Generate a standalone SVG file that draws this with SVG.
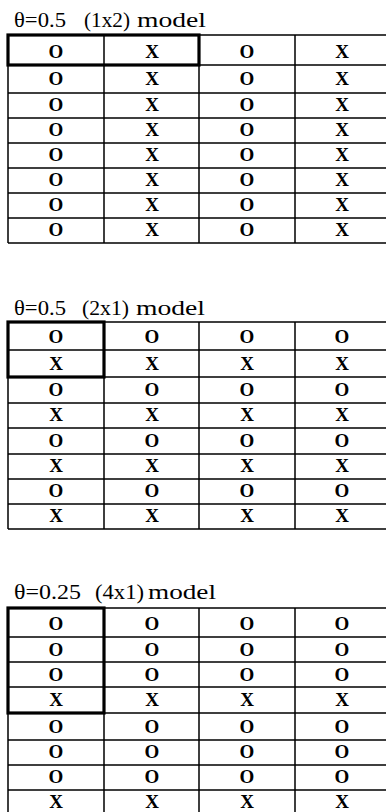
<svg xmlns="http://www.w3.org/2000/svg" width="386" height="812" viewBox="0 0 386 812">
<style>
.title{font-family:"Liberation Serif","Times New Roman",serif;font-size:20px;fill:#000}
.c{font-family:"Liberation Serif","Times New Roman",serif;font-size:19px;font-weight:bold;fill:#000;text-anchor:middle}
.g{stroke:#000;stroke-width:1.5;fill:none}
.k{stroke:#000;stroke-width:3.2;fill:none}
</style>
<rect width="386" height="812" fill="#fff"/>

<g id="table1">
<text class="title" y="27"><tspan x="14" textLength="52" lengthAdjust="spacingAndGlyphs">θ=0.5</tspan><tspan x="84" textLength="46" lengthAdjust="spacingAndGlyphs">(1x2)</tspan><tspan x="137" textLength="69" lengthAdjust="spacingAndGlyphs">model</tspan></text>
<g class="g">
<path d="M8 35H390M8 65H390M8 93H390M8 118H390M8 143H390M8 168H390M8 193H390M8 218H390M8 243H390"/>
<path d="M8 35V243M104 35V243M199 35V243M295 35V243"/>
</g>
<rect class="k" x="8" y="35" width="191" height="30"/>
<g>
<text class="c" x="56" y="58">O</text><text class="c" x="152" y="58">X</text><text class="c" x="247" y="58">O</text><text class="c" x="342" y="58">X</text>
<text class="c" x="56" y="85">O</text><text class="c" x="152" y="85">X</text><text class="c" x="247" y="85">O</text><text class="c" x="342" y="85">X</text>
<text class="c" x="56" y="111">O</text><text class="c" x="152" y="111">X</text><text class="c" x="247" y="111">O</text><text class="c" x="342" y="111">X</text>
<text class="c" x="56" y="136">O</text><text class="c" x="152" y="136">X</text><text class="c" x="247" y="136">O</text><text class="c" x="342" y="136">X</text>
<text class="c" x="56" y="161">O</text><text class="c" x="152" y="161">X</text><text class="c" x="247" y="161">O</text><text class="c" x="342" y="161">X</text>
<text class="c" x="56" y="186">O</text><text class="c" x="152" y="186">X</text><text class="c" x="247" y="186">O</text><text class="c" x="342" y="186">X</text>
<text class="c" x="56" y="211">O</text><text class="c" x="152" y="211">X</text><text class="c" x="247" y="211">O</text><text class="c" x="342" y="211">X</text>
<text class="c" x="56" y="236">O</text><text class="c" x="152" y="236">X</text><text class="c" x="247" y="236">O</text><text class="c" x="342" y="236">X</text>
</g>
</g>

<g id="table2">
<text class="title" y="315"><tspan x="14" textLength="52" lengthAdjust="spacingAndGlyphs">θ=0.5</tspan><tspan x="82" textLength="47" lengthAdjust="spacingAndGlyphs">(2x1)</tspan><tspan x="136" textLength="69" lengthAdjust="spacingAndGlyphs">model</tspan></text>
<g class="g">
<path d="M8 322H390M8 350H390M8 377H390M8 403H390M8 428H390M8 454H390M8 479H390M8 504H390M8 529H390"/>
<path d="M8 322V529M104 322V529M199 322V529M295 322V529"/>
</g>
<rect class="k" x="8" y="322" width="96" height="55"/>
<g>
<text class="c" x="56" y="343">O</text><text class="c" x="152" y="343">O</text><text class="c" x="247" y="343">O</text><text class="c" x="342" y="343">O</text>
<text class="c" x="56" y="370">X</text><text class="c" x="152" y="370">X</text><text class="c" x="247" y="370">X</text><text class="c" x="342" y="370">X</text>
<text class="c" x="56" y="396">O</text><text class="c" x="152" y="396">O</text><text class="c" x="247" y="396">O</text><text class="c" x="342" y="396">O</text>
<text class="c" x="56" y="421">X</text><text class="c" x="152" y="421">X</text><text class="c" x="247" y="421">X</text><text class="c" x="342" y="421">X</text>
<text class="c" x="56" y="447">O</text><text class="c" x="152" y="447">O</text><text class="c" x="247" y="447">O</text><text class="c" x="342" y="447">O</text>
<text class="c" x="56" y="472">X</text><text class="c" x="152" y="472">X</text><text class="c" x="247" y="472">X</text><text class="c" x="342" y="472">X</text>
<text class="c" x="56" y="497">O</text><text class="c" x="152" y="497">O</text><text class="c" x="247" y="497">O</text><text class="c" x="342" y="497">O</text>
<text class="c" x="56" y="522">X</text><text class="c" x="152" y="522">X</text><text class="c" x="247" y="522">X</text><text class="c" x="342" y="522">X</text>
</g>
</g>

<g id="table3">
<text class="title" y="599"><tspan x="14" textLength="67" lengthAdjust="spacingAndGlyphs">θ=0.25</tspan><tspan x="95" textLength="49" lengthAdjust="spacingAndGlyphs">(4x1)</tspan><tspan x="148" textLength="68" lengthAdjust="spacingAndGlyphs">model</tspan></text>
<g class="g">
<path d="M8 608H390M8 637H390M8 662H390M8 687H390M8 713H390M8 740H390M8 765H390M8 790H390"/>
<path d="M8 608V812M104 608V812M199 608V812M295 608V812"/>
</g>
<rect class="k" x="8" y="608" width="96" height="105"/>
<g>
<text class="c" x="56" y="630">O</text><text class="c" x="152" y="630">O</text><text class="c" x="247" y="630">O</text><text class="c" x="342" y="630">O</text>
<text class="c" x="56" y="656">O</text><text class="c" x="152" y="656">O</text><text class="c" x="247" y="656">O</text><text class="c" x="342" y="656">O</text>
<text class="c" x="56" y="681">O</text><text class="c" x="152" y="681">O</text><text class="c" x="247" y="681">O</text><text class="c" x="342" y="681">O</text>
<text class="c" x="56" y="706">X</text><text class="c" x="152" y="706">X</text><text class="c" x="247" y="706">X</text><text class="c" x="342" y="706">X</text>
<text class="c" x="56" y="733">O</text><text class="c" x="152" y="733">O</text><text class="c" x="247" y="733">O</text><text class="c" x="342" y="733">O</text>
<text class="c" x="56" y="758">O</text><text class="c" x="152" y="758">O</text><text class="c" x="247" y="758">O</text><text class="c" x="342" y="758">O</text>
<text class="c" x="56" y="783">O</text><text class="c" x="152" y="783">O</text><text class="c" x="247" y="783">O</text><text class="c" x="342" y="783">O</text>
<text class="c" x="56" y="808">X</text><text class="c" x="152" y="808">X</text><text class="c" x="247" y="808">X</text><text class="c" x="342" y="808">X</text>
</g>
</g>
</svg>
